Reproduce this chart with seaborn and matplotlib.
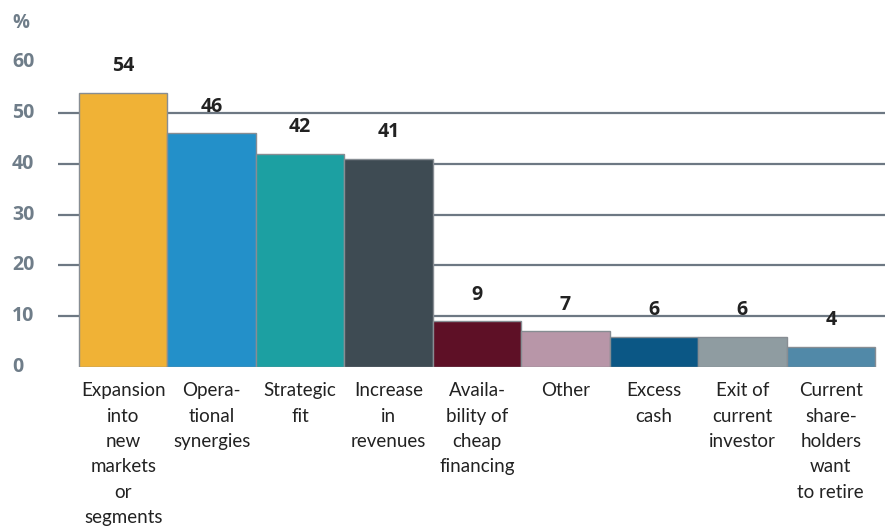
import matplotlib
matplotlib.use("Agg")
import matplotlib.pyplot as plt
import seaborn as sns
import pandas as pd

categories = [
    "Expansion\ninto\nnew\nmarkets\nor\nsegments",
    "Opera-\ntional\nsynergies",
    "Strategic\nfit",
    "Increase\nin\nrevenues",
    "Availa-\nbility of\ncheap\nfinancing",
    "Other",
    "Excess\ncash",
    "Exit of\ncurrent\ninvestor",
    "Current\nshare-\nholders\nwant\nto retire",
]
values = [54, 46, 42, 41, 9, 7, 6, 6, 4]
colors = ["#F0B236", "#2390C9", "#1CA0A2", "#3E4B53", "#5E1026",
          "#B896A8", "#0B5785", "#8F9CA1", "#5189A8"]
y_ticks = [0, 10, 20, 30, 40, 50, 60]

sns.set_theme(style="white")
plt.rcParams["font.family"] = ["Lato", "DejaVu Sans"]
BOLD = ["Open Sans", "DejaVu Sans"]

W, H = 885, 530
fig = plt.figure(figsize=(W / 100, H / 100), dpi=100)
left_px, right_px = 58, 885
bottom_px, top_px = 367, 37
ax = fig.add_axes([left_px / W, 1 - bottom_px / H,
                   (right_px - left_px) / W, (bottom_px - top_px) / H])

df = pd.DataFrame({"reason": categories, "share": values})
sns.barplot(data=df, x="reason", y="share", hue="reason", palette=colors,
            saturation=1, width=1.0, edgecolor="#878d93", linewidth=1.0,
            legend=False, ax=ax, zorder=3)

bar_w_px = 88.4
ax.set_xlim(-0.5 - 21 / bar_w_px, 8.5 + 10 / bar_w_px)
ax.set_ylim(0, (bottom_px - top_px) / 5.08)

# gridlines only between the zero line and the top tick
ax.set_yticks(y_ticks)
for yv in y_ticks[1:-1]:
    ax.axhline(yv, color="#6d7883", lw=1.6, zorder=1)

for s in ax.spines.values():
    s.set_visible(False)

ax.tick_params(axis="y", length=0, pad=46 * 0.72)
ax.set_yticklabels([str(v) for v in y_ticks], fontsize=14,
                   fontweight="bold", color="#6f7d89", family=BOLD)
for lab in ax.get_yticklabels():
    lab.set_horizontalalignment("left")
    lab.set_verticalalignment("center")

ax.tick_params(axis="x", length=0, pad=11)
ax.set_xticks(range(len(categories)))
ax.set_xticklabels(categories, fontsize=13.5, color="#222222",
                   linespacing=1.6, va="top")
ax.set_xlabel("")
ax.set_ylabel("")

for i, v in enumerate(values):
    ax.annotate(str(v), (i, v), xytext=(0, 19), textcoords="offset points",
                ha="center", va="center", fontsize=14, fontweight="bold",
                color="#222222", family=BOLD)

fig.text(12 / W, 1 - 23 / H, "%", fontsize=13.5, fontweight="bold",
         color="#6f7d89", ha="left", va="center", family=BOLD)

fig.savefig("out.png", dpi=100)
